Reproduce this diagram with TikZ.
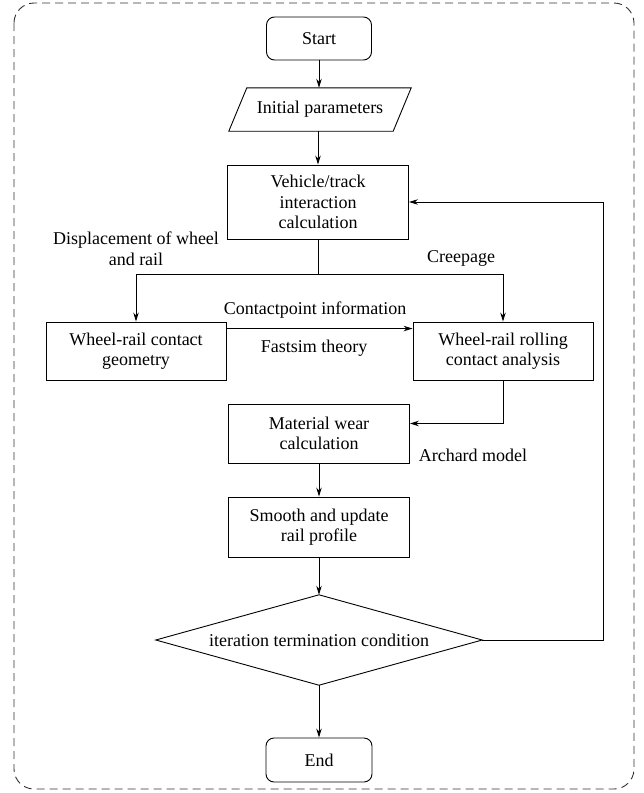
\documentclass[tikz,border=0pt]{standalone}
\usepackage{fontspec}
\setmainfont{Liberation Serif}
\usetikzlibrary{arrows.meta,calc}
\begin{document}
\begin{tikzpicture}[x=1pt,y=-1pt,
  every node/.style={font=\fontsize{18}{20.5}\selectfont, align=center, inner sep=0pt},
  box/.style={draw, line width=0.9pt, minimum width=181pt},
  term/.style={draw, line width=0.9pt, rounded corners=8pt, minimum width=105pt, minimum height=43pt},
  lbl/.style={align=center},
  arr/.style={line width=0.9pt, -{Stealth[length=9pt,width=5.5pt]}},
  conn/.style={line width=0.9pt}]
\useasboundingbox (0,0) rectangle (643,793);
\draw[line width=0.9pt, dash pattern=on 8pt off 5pt, rounded corners=20pt, black!80] (14,3) rectangle (634,789);

\node[term] (start) at (319,38.5) {Start};
\node[minimum width=164pt, minimum height=43pt] (init) at (320,109.5) {Initial parameters};
\draw[line width=0.9pt] ([xshift=9pt]init.north west) -- ([xshift=9pt]init.north east)
  -- ([xshift=-9pt]init.south east) -- ([xshift=-9pt]init.south west) -- cycle;
\node[box, minimum height=74pt] (veh) at (318,202) {Vehicle/track\\interaction\\calculation};
\node[box, minimum width=180pt, minimum height=58pt] (geo) at (136,351) {Wheel-rail contact\\geometry};
\node[box, minimum width=180pt, minimum height=58pt] (roll) at (503,351) {Wheel-rail rolling\\contact analysis};
\node[box, minimum height=59pt] (wear) at (319,433.5) {Material wear\\calculation};
\node[box, minimum height=60pt] (smooth) at (319,527) {Smooth and update\\rail profile};
\node[minimum width=326pt, minimum height=90pt] (cond) at (319,640) {iteration termination condition};
\draw[line width=0.9pt] (cond.north) -- (cond.east) -- (cond.south) -- (cond.west) -- cycle;
\node[term, minimum width=106pt, minimum height=44pt] (end) at (319,760) {End};

\coordinate (split) at (318,274);

\draw[arr] (start.south) -- (start.south |- init.north);
\draw[arr] (init.south -| veh.north) -- (veh.north);
\draw[conn] (veh.south) -- (split);
\draw[arr] (split) -| (geo.north);
\draw[arr] (split) -| (roll.north);
\draw[arr] ([yshift=-7pt]geo.north east) -- ([yshift=-7pt]geo.north east -| roll.west);
\draw[arr] (roll.south) |- ([yshift=10pt]wear.east);
\draw[arr] (wear.south) -- (smooth.north);
\draw[arr] (smooth.south) -- (cond.north);
\draw[arr] (cond.south) -- (end.north);
\draw[arr] (cond.east) -- ++(121,0) |- (veh.east);

\node[lbl] (l1) at (136,251) {\begin{tabular}{@{}c@{}}Displacement of wheel\\and rail\end{tabular}};
\node[lbl] (l2) at (461,258) {Creepage};
\node[lbl] (l3) at (315,310) {Contactpoint information};
\node[lbl] (l4) at (314,348) {Fastsim theory};
\node[lbl] (l5) at (473,455) {Archard model};
\end{tikzpicture}
\end{document}
